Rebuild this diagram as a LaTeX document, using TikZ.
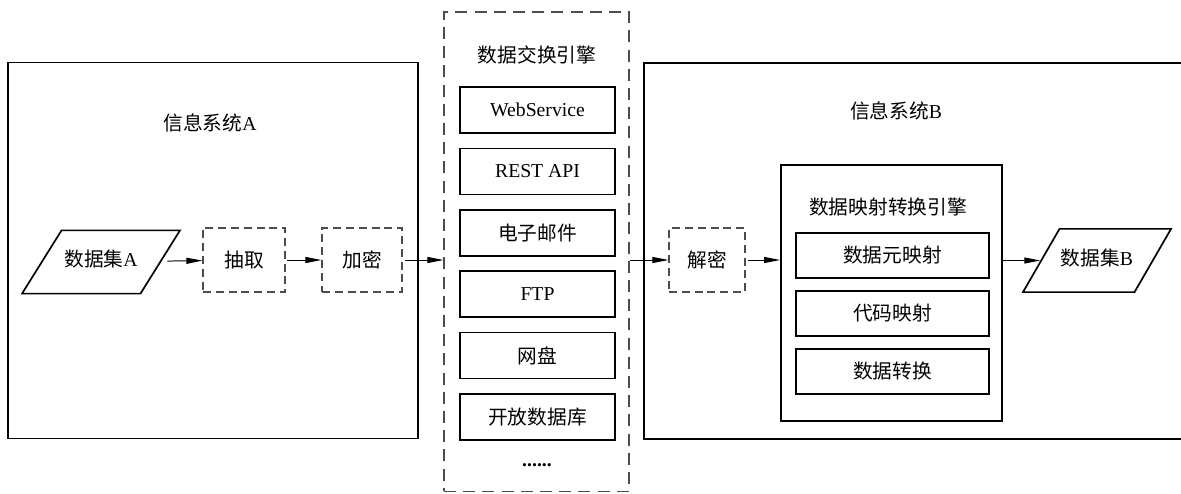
\documentclass[tikz,border=0pt]{standalone}
\usepackage{fontspec}
\setmainfont{Liberation Serif}
\newfontfamily\cjk{Noto Sans CJK SC}
\usetikzlibrary{arrows.meta,shapes.geometric}
\begin{document}
\begin{tikzpicture}[x=0.025cm,y=-0.025cm,
  font=\fontsize{14}{17}\selectfont,
  sys/.style={draw,line width=1.2pt,minimum height=9.4cm},
  box/.style={draw,line width=1.2pt},
  dbox/.style={draw=black!70,line width=0.8pt,dash pattern=on 0.2cm off 0.12cm,minimum width=2cm,minimum height=1.6cm},
  data/.style={draw,line width=1.2pt,trapezium,text height=10pt,text depth=3pt,inner ysep=16pt},
  arr/.style={-{Triangle[length=0.4cm,width=0.15cm]},line width=0.7pt}]
\useasboundingbox (0,0) rectangle (1181,493);
% information system A
\node[sys,minimum width=10.25cm] (sa) at (213,250.5) {};
\node (ta) at (210,123) {{\cjk 信息系统}A};
\node[data,trapezium left angle=58,trapezium right angle=122,inner xsep=2pt] (da) at (101,262) {{\cjk 数据集}A};
\node[dbox,minimum width=2.05cm] (ex) at (244,260) {\cjk 抽取};
\node[dbox] (en) at (362,260) {\cjk 加密};
% exchange engine
\node[draw=black!70,line width=0.8pt,dash pattern=on 0.3cm off 0.18cm,minimum width=4.625cm,minimum height=11.975cm] (xe) at (536.5,251.5) {};
\node (tx) at (537,55) {\cjk 数据交换引擎};
\foreach \n/\t [count=\i from 0] in {ws/WebService,rest/REST API,mail/{\cjk 电子邮件},ftp/FTP,disk/{\cjk 网盘},odb/{\cjk 开放数据库}}
  \node[box,minimum width=3.875cm,minimum height=1.15cm] (\n) at (537.5,110+61.4*\i) {\t};
\node (more) at (537,465) {\textbf{......}};
% information system B
\node[sys,minimum width=13.65cm] (sb) at (917,251) {};
\node (tb) at (896,111) {{\cjk 信息系统}B};
\node[dbox,minimum width=1.9cm] (de) at (707,260) {\cjk 解密};
\node[box,minimum width=5.525cm,minimum height=6.4cm] (me) at (891.5,293) {};
\node (tm) at (888,207) {\cjk 数据映射转换引擎};
\foreach \n/\t [count=\i from 0] in {mda/数据元映射,mcode/代码映射,mconv/数据转换}
  \node[box,minimum width=4.825cm,minimum height=1.125cm] (\n) at (892.5,255.5+58*\i) {\cjk \t};
\node[data,trapezium left angle=60,trapezium right angle=120,inner xsep=1pt] (db) at (1097,260.5) {{\cjk 数据集}B};
% flow
\draw[arr,shorten <=4pt] (da) -- (ex);
\draw[arr,shorten <=1pt] (ex) -- (en);
\draw[arr,shorten <=2pt] (en) -- (en -| xe.west);
\draw[arr] (xe.east |- de) -- (de);
\draw[arr,shorten <=2pt] (de) -- (de -| me.west);
\draw[arr] (me.east |- db) -- (db);
\end{tikzpicture}
\end{document}
